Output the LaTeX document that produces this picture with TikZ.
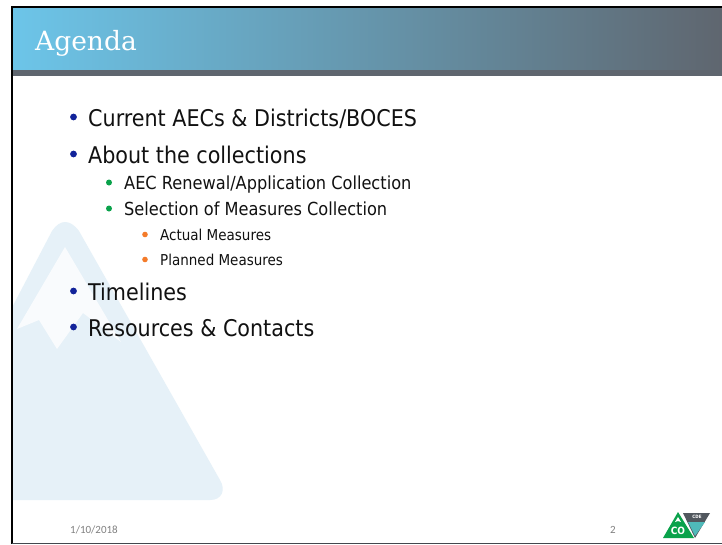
\documentclass[tikz,border=0pt]{standalone}
\usepackage{fontspec}
\setmainfont{DejaVu Sans}
\newfontfamily\bodyf{DejaVu Sans Condensed}
\newfontfamily\titlef{DejaVu Serif}
\newfontfamily\footf{Carlito}
\definecolor{bandL}{HTML}{6CC5E9}
\definecolor{bandR}{HTML}{5F666F}
\definecolor{wm}{HTML}{E6F1F8}
\definecolor{navy}{HTML}{12239A}
\definecolor{grn}{HTML}{0AA24B}
\definecolor{org}{HTML}{F47B2A}
\definecolor{txt}{HTML}{111111}
\tikzset{x=1pt,y=-1pt,
 lv1/.style={anchor=base west,inner sep=0pt,text=txt,font=\bodyf\fontsize{23}{26}\selectfont},
 lv2/.style={anchor=base west,inner sep=0pt,text=txt,font=\bodyf\fontsize{18}{20}\selectfont},
 lv3/.style={anchor=base west,inner sep=0pt,text=txt,font=\bodyf\fontsize{15}{17}\selectfont},
 foot/.style={anchor=base west,inner sep=0pt,text=black!50,font=\footf\fontsize{11}{12}\selectfont}}
\begin{document}
\begin{tikzpicture}
\useasboundingbox (0,0) rectangle (722,544);
\fill[white] (0,0) rectangle (722,544);
% watermark mountain
\begin{scope}
\clip (13,8) rectangle (722,542);
\fill[wm] (-40,500) -- (210,500)
  .. controls (222,500) and (226,490) .. (220,480)
  -- (79,231) .. controls (70,219) and (60,219) .. (52,231) -- (-40,407) -- cycle;
\fill[white!75!wm,line join=round] (65,247) -- (121,342) -- (83,313) -- (57,349) -- (39,320) -- (17,329) -- cycle;
\end{scope}
% header band
\shade[left color=bandL,right color=bandR] (13,8) rectangle (722,70);
\fill[bandR] (13,70) rectangle (722,76);
% frame
\draw[black,line width=2pt] (12,544) -- (12,7) -- (722,7);
\draw[bandR!70!black,line width=1pt] (12,543) -- (722,543);
% title
\node[anchor=base west,inner sep=0pt,text=white,font=\titlef\fontsize{26.5}{28}\selectfont] (title) at (35,50) {Agenda};
% level 1
\foreach \y/\t/\n in {126/{Current AECs \& Districts/BOCES}/a,163/{About the collections}/b,300/{Timelines}/c,336/{Resources \& Contacts}/d}{
  \fill[navy] (73.5,\y-9) circle (3.4);
  \node[lv1] (l\n) at (88,\y) {\t};
}
% level 2
\foreach \y/\t/\n in {189/{AEC Renewal/Application Collection}/a,215/{Selection of Measures Collection}/b}{
  \fill[grn] (109,\y-6.5) circle (3);
  \node[lv2] (m\n) at (124,\y) {\t};
}
% level 3
\foreach \y/\t/\n in {240/{Actual Measures}/a,265/{Planned Measures}/b}{
  \fill[org] (145,\y-5.5) circle (2.8);
  \node[lv3] (s\n) at (160,\y) {\t};
}
% footer
\node[foot] (date) at (70,533) {1/10/2018};
\node[foot] (num) at (610,533) {2};
% logo
\fill[bandR!85!black] (683,513) -- (710,513) -- (695,538) -- cycle;
\fill[bandL!70!grn] (688,522) -- (705,522) -- (695,536) -- cycle;
\node[inner sep=0pt,text=white,font=\bodyf\bfseries\fontsize{4.5}{4.5}\selectfont] (cde) at (697,516.5) {CDE};
\fill[grn] (678,512) -- (694,538) -- (663,538) -- cycle;
\fill[white] (678,517) -- (681,522) -- (678,521) -- (675,522) -- cycle;
\node[inner sep=0pt,text=white,font=\bodyf\bfseries\fontsize{10}{10}\selectfont] (co) at (678,531) {CO};
\end{tikzpicture}
\end{document}
